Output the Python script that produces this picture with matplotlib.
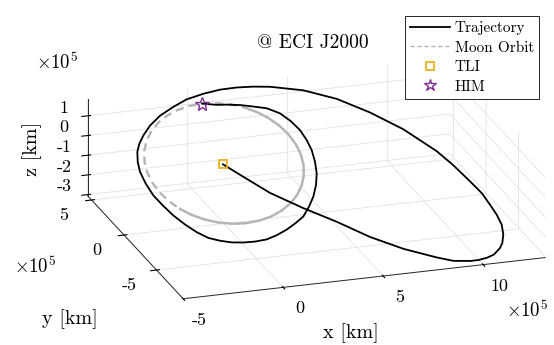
import matplotlib
matplotlib.use('Agg')
import matplotlib.pyplot as plt
from matplotlib.lines import Line2D
from matplotlib.transforms import ScaledTranslation

plt.rcParams['font.family'] = ['cmr10', 'DejaVu Serif']
plt.rcParams['mathtext.fontset'] = 'cm'
plt.rcParams['axes.unicode_minus'] = False
plt.rcParams['grid.color'] = '#e2e2e2'
plt.rcParams['grid.linewidth'] = 0.6

# all positions in units of 1e5 km, ECI J2000
traj_x = [-0.071, 0.378, 0.922, 1.472, 2.685, 3.940, 5.153, 6.446, 7.820, 8.523,
          9.310, 9.725, 10.175, 10.599, 11.038, 11.265, 11.511, 11.673, 11.674, 11.596,
          11.480, 11.206, 10.799, 10.349, 9.291, 8.116, 6.865, 5.489, 3.999, 3.212,
          2.407, 1.566, 0.677, -0.240, -1.053, -1.893, -2.601, -3.154, -3.539, -3.830,
          -4.048, -4.177, -4.185, -4.105, -3.899, -3.637, -3.299, -2.929, -2.517, -2.030,
          -1.517, -0.971, -0.396, 0.209, 0.782, 1.388, 1.971, 2.486, 2.991, 3.431,
          3.835, 4.145, 4.340, 4.462, 4.464, 4.385, 4.161, 3.839, 3.331, 2.738,
          2.145, 1.526, 1.048, 0.0]
traj_y = [-0.064, -0.792, -1.670, -2.548, -3.940, -5.216, -6.607, -7.751, -8.662, -9.051,
          -9.200, -9.201, -9.109, -8.926, -8.498, -8.154, -7.550, -6.807, -6.033, -5.243,
          -4.323, -3.365, -2.049, -0.879, 1.002, 2.510, 3.785, 4.689, 5.227, 5.376,
          5.452, 5.433, 5.269, 5.001, 4.560, 4.022, 3.382, 2.712, 2.143, 1.555,
          0.822, 0.072, -0.832, -1.753, -2.567, -3.391, -4.152, -4.811, -5.330, -5.632,
          -5.853, -5.957, -5.988, -5.925, -5.701, -5.374, -4.966, -4.552, -3.874, -3.183,
          -2.354, -1.507, -0.645, 0.238, 1.012, 1.801, 2.540, 3.198, 3.681, 3.918,
          4.139, 4.279, 4.347, 3.378]
traj_z = [-0.019, -0.238, -0.501, -0.764, -1.182, -1.565, -1.982, -2.325, -2.599, -2.715,
          -2.760, -2.760, -2.733, -2.678, -2.549, -2.446, -2.265, -2.042, -1.810, -1.573,
          -1.297, -1.010, -0.615, -0.264, 0.301, 0.753, 1.136, 1.407, 1.568, 1.613,
          1.636, 1.630, 1.581, 1.500, 1.368, 1.207, 1.015, 0.814, 0.643, 0.467,
          0.247, 0.022, -0.250, -0.526, -0.770, -1.017, -1.246, -1.443, -1.599, -1.690,
          -1.756, -1.787, -1.796, -1.778, -1.710, -1.612, -1.490, -1.366, -1.162, -0.955,
          -0.706, -0.452, -0.194, 0.071, 0.304, 0.540, 0.762, 0.959, 1.104, 1.175,
          1.242, 1.284, 1.304, 1.834]

# one lunar revolution, starting near the bottom-left of the orbit
moon_x = [-2.945, -2.471, -1.922, -1.315, -0.667, 0.0, 0.667, 1.315, 1.922, 2.471,
          2.945, 3.329, 3.612, 3.786, 3.844, 3.786, 3.612, 3.329, 2.945, 2.471,
          1.922, 1.315, 0.667, 0.0, -0.667, -1.315, -1.922, -2.471, -2.945, -3.329,
          -3.612, -3.786, -3.844, -3.786, -3.612, -3.329]
moon_y = [-2.171, -2.588, -2.925, -3.174, -3.327, -3.378, -3.327, -3.174, -2.925, -2.588,
          -2.171, -1.689, -1.155, -0.587, 0.0, 0.587, 1.155, 1.689, 2.171, 2.588,
          2.925, 3.174, 3.327, 3.378, 3.327, 3.174, 2.925, 2.588, 2.171, 1.689,
          1.155, 0.587, 0.0, -0.587, -1.155, -1.689]
moon_z = [-1.179, -1.405, -1.588, -1.723, -1.806, -1.834, -1.806, -1.723, -1.588, -1.405,
          -1.179, -0.917, -0.627, -0.318, 0.0, 0.318, 0.627, 0.917, 1.179, 1.405,
          1.588, 1.723, 1.806, 1.834, 1.806, 1.723, 1.588, 1.405, 1.179, 0.917,
          0.627, 0.318, 0.0, -0.318, -0.627, -0.917]
moon_overlap = 21  # the plotted orbit runs a bit more than one revolution

tli_x, tli_y, tli_z = [-0.071], [-0.064], [-0.019]
him_x, him_y, him_z = [0.0], [3.378], [1.834]

xticks = [-5, 0, 5, 10]
yticks = [-5, 0, 5]
zticks = [-3, -2, -1, 0, 1]

fig = plt.figure(figsize=(5.54, 3.45), dpi=100)
ax = fig.add_axes([0.0627, -0.0304, 1, 1], projection='3d', proj_type='ortho')
ax.computed_zorder = False

moon_style = dict(color='#b4b4b4', lw=1.7, zorder=2, clip_on=False)
ax.plot(moon_x + moon_x[:1], moon_y + moon_y[:1], moon_z + moon_z[:1],
        ls=(0, (3.5, 2.2)), **moon_style)
# second pass over the first part of the orbit, dashes land in the gaps
ax.plot(moon_x[:moon_overlap], moon_y[:moon_overlap], moon_z[:moon_overlap],
        ls=(2.85, (3.5, 2.2)), **moon_style)
ax.plot(traj_x, traj_y, traj_z, color='k', lw=1.3, zorder=3, clip_on=False)
ax.plot(tli_x, tli_y, tli_z, ls='none', marker='s', ms=6, mfc='none',
        mec='#EDB120', mew=1.3, zorder=4, clip_on=False)
ax.plot(him_x, him_y, him_z, ls='none', marker='*', ms=10, mfc='none',
        mec='#7E2F8E', mew=1.0, zorder=4, clip_on=False)

ax.set_xlim(-5, 13.1)
ax.set_ylim(-9.1, 5.6)
ax.set_zlim(-3.06, 1.85)
ax.set_box_aspect((18.1, 14.7, 4.91), zoom=1.41)
ax.view_init(elev=20.5, azim=-108)

ax.set_xticks(xticks)
ax.set_xticklabels([str(t) for t in xticks])
ax.set_yticks(yticks)
ax.set_yticklabels([str(t) for t in yticks])
ax.set_zticks(zticks)
ax.set_zticklabels([str(t) for t in zticks])
ax.tick_params(labelsize=13)

for axis in (ax.xaxis, ax.yaxis, ax.zaxis):
    axis.set_pane_color((1, 1, 1, 0))
    axis.pane.set_edgecolor('#e2e2e2')
    axis.line.set_color('#262626')
    axis.line.set_linewidth(0.7)
    axis._axinfo['tick']['color'] = '#262626'


# axis3d resets tick label transforms on every draw, so wrap it to add
# a small pixel offset (MATLAB puts the labels a bit differently)
def nudge_ticklabels(axis, dx, dy):
    orig = axis.get_major_ticks
    off = ScaledTranslation(dx / 100, dy / 100, fig.dpi_scale_trans)

    def get_major_ticks(numticks=None):
        ticks = orig(numticks)
        for t in ticks:
            t.label1.set_transform(ax.transData + off)
        return ticks
    axis.get_major_ticks = get_major_ticks


nudge_ticklabels(ax.xaxis, 8, 4)
nudge_ticklabels(ax.yaxis, 4.5, 4.5)
nudge_ticklabels(ax.zaxis, 17, 10)

# labels
fig.text(313, 345 - 43, '@ ECI J2000', transform=None, fontsize=14,
         ha='center', va='center')
fig.text(351 / 554, 1 - 333 / 345, 'x [km]', fontsize=14.5, ha='center', va='center')
fig.text(70 / 554, 1 - 319 / 345, 'y [km]', fontsize=14.5, ha='center', va='center')
fig.text(32 / 554, 1 - 149 / 345, 'z [km]', fontsize=14.5, ha='center', va='center',
         rotation=90)
fig.text(57 / 554, 1 - 63 / 345, r'$\times10^5$', fontsize=13.5, ha='center', va='center')
fig.text(35 / 554, 1 - 267 / 345, r'$\times10^5$', fontsize=13.5, ha='center', va='center')
fig.text(527 / 554, 1 - 311 / 345, r'$\times10^5$', fontsize=13.5, ha='center', va='center')

handles = [
    Line2D([], [], color='k', lw=1.3),
    Line2D([], [], color='#b4b4b4', lw=1.0, ls=(0, (3, 2))),
    Line2D([], [], ls='none', marker='s', ms=6, mfc='none', mec='#EDB120', mew=1.3),
    Line2D([], [], ls='none', marker='*', ms=9, mfc='none', mec='#7E2F8E', mew=1.0),
]
leg = ax.legend(handles, ['Trajectory', 'Moon Orbit', 'TLI', 'HIM'],
                loc='upper right', bbox_to_anchor=(539 / 554, 1 - 16 / 345),
                bbox_transform=fig.transFigure, fontsize=11, fancybox=False,
                framealpha=1, edgecolor='#262626', borderaxespad=0,
                handlelength=2.6, labelspacing=0.38, borderpad=0.33,
                handletextpad=0.33)
leg.get_frame().set_linewidth(0.7)

fig.savefig('out.png', dpi=100)
